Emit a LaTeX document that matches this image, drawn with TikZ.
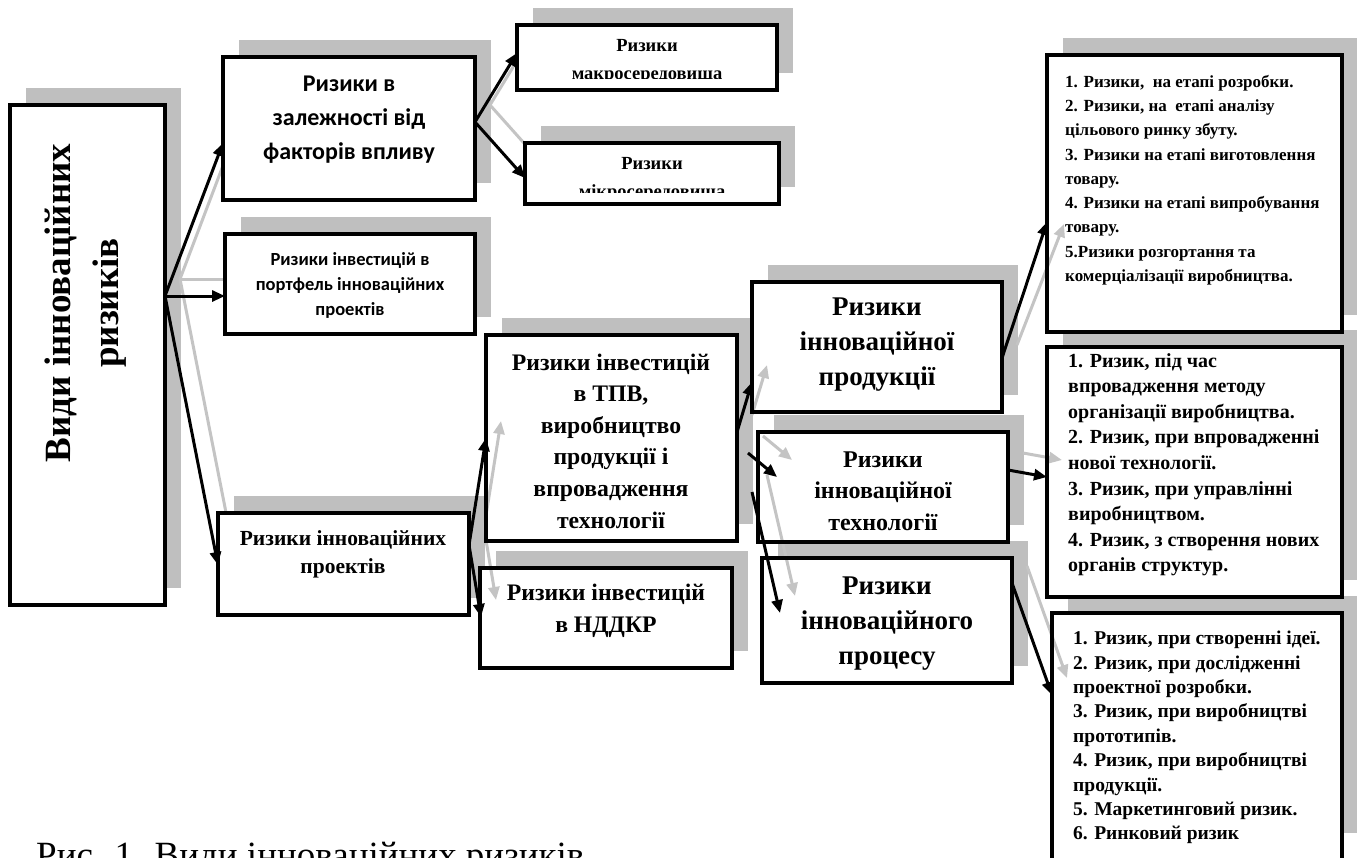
\documentclass[tikz,border=0pt]{standalone}
\usepackage{fontspec}
\setmainfont{Liberation Serif}
\newfontfamily\calfont{Carlito}
\usetikzlibrary{arrows.meta,fit}
\definecolor{shd}{HTML}{BFBFBF}
\definecolor{gar}{HTML}{C4C4C4}
\begin{document}
\begin{tikzpicture}[x=1pt,y=-1pt,
  box/.style={draw=black, line width=3.5pt, fill=white, inner sep=0pt},
  boxline/.style={draw=black, line width=3.5pt},
  blkarrow/.style={draw=black, line width=3pt, -{Triangle[length=13pt,width=11pt]}},
  grayarrow/.style={draw=gar, line width=3pt, -{Triangle[length=13pt,width=11pt]}},
  txt/.style={align=center, inner sep=0pt},
  lst/.style={align=left, inner sep=0pt, anchor=north west}]
\useasboundingbox (0,0) rectangle (1357,857);
\clip (0,0) rectangle (1357,857);
% box corners
\coordinate (main-nw) at (10,105);   \coordinate (main-se) at (165,605);
\coordinate (zal-nw) at (223,57);    \coordinate (zal-se) at (475,200);
\coordinate (macro-nw) at (517,25);  \coordinate (macro-se) at (777,90);
\coordinate (micro-nw) at (525,143); \coordinate (micro-se) at (779,204);
\coordinate (port-nw) at (225,234);  \coordinate (port-se) at (475,334);
\coordinate (proj-nw) at (218,513);  \coordinate (proj-se) at (469,615);
\coordinate (tpv-nw) at (486,335);   \coordinate (tpv-se) at (737,541);
\coordinate (nd-nw) at (480,568);    \coordinate (nd-se) at (732,668);
\coordinate (prod-nw) at (752,282);  \coordinate (prod-se) at (1002,412);
\coordinate (tech-nw) at (758,432);  \coordinate (tech-se) at (1008,542);
\coordinate (proc-nw) at (762,558);  \coordinate (proc-se) at (1012,683);
\coordinate (r1-nw) at (1047,55);    \coordinate (r1-se) at (1342,332);
\coordinate (r2-nw) at (1047,347);   \coordinate (r2-se) at (1342,597);
\coordinate (r3-nw) at (1052,613);   \coordinate (r3-se) at (1342,880);
% connector end points
\coordinate (mo) at (165,296);
\coordinate (h-zal) at (223,143);
\coordinate (h-port) at (225,296);
\coordinate (h-proj) at (218,565);
\coordinate (t-zal) at (475,122);
\coordinate (h-macro) at (517,53);
\coordinate (h-micro) at (525,178);
\coordinate (t-proj) at (469,545);
\coordinate (h-tpv) at (486,438);
\coordinate (h-nd) at (481,617);
\coordinate (t-tpv) at (737,432);
\coordinate (h-prod) at (752,382);
\coordinate (t-tech0) at (748,453);
\coordinate (h-tech) at (777,477);
\coordinate (t-proc0) at (752,492);
\coordinate (h-proc) at (780,613);
\coordinate (t-prod) at (1002,358);
\coordinate (h-r1) at (1047,222);
\coordinate (t-tech) at (1008,470);
\coordinate (h-r2) at (1047,477);
\coordinate (t-proc) at (1012,583);
\coordinate (h-r3) at (1052,695);
% shadows of boxes
\foreach \n in {main,zal,macro,micro,port,proj,tpv,nd,prod,tech,proc,r1,r2}
  \fill[shd] ([shift={(16,-17)}]\n-nw) rectangle ([shift={(16,-17)}]\n-se);
\fill[shd] (1068,596) rectangle (1359,833);
% shadows of left connectors (behind boxes)
\begin{scope}[transform canvas={shift={(15,-17)}}]
  \draw[grayarrow] (mo) -- (h-zal);
  \draw[grayarrow] (mo) -- (h-port);
  \draw[grayarrow] (mo) -- (h-proj);
  \draw[grayarrow] (t-zal) -- (h-macro);
  \draw[grayarrow] (t-zal) -- (h-micro);
\end{scope}
% boxes
\foreach \n in {main,zal,macro,micro,port,proj,tpv,nd,prod,tech,proc,r1,r2,r3}
  \node[box, fit=(\n-nw)(\n-se)] (\n) {};
% shadows of right connectors (over box fills)
\begin{scope}[transform canvas={shift={(15,-17)}}]
  \draw[grayarrow] (t-proj) -- (h-tpv);
  \draw[grayarrow] (t-proj) -- (h-nd);
  \draw[grayarrow] (t-tpv) -- (h-prod);
  \draw[grayarrow] (t-tech0) -- (h-tech);
  \draw[grayarrow] (t-proc0) -- (h-proc);
  \draw[grayarrow] (t-tech) -- (h-r2);
  \draw[grayarrow] (t-proc) -- (h-r3);
\end{scope}
\coordinate (g-prod) at (1017,345);
\coordinate (g-r1) at (1064,224);
\draw[grayarrow] (g-prod) -- (g-r1);
\foreach \n in {tpv,nd,prod,tech,proc,r1,r2,r3}
  \draw[boxline] (\n-nw) rectangle (\n-se);
% connectors
\draw[blkarrow] (mo) -- (h-zal);
\draw[blkarrow] (mo) -- (h-port);
\draw[blkarrow] (mo) -- (h-proj);
\draw[blkarrow] (t-zal) -- (h-macro);
\draw[blkarrow] (t-zal) -- (h-micro);
\draw[blkarrow] (t-proj) -- (h-tpv);
\draw[blkarrow] (t-proj) -- (h-nd);
\draw[blkarrow] (t-tpv) -- (h-prod);
\draw[blkarrow] (t-tech0) -- (h-tech);
\draw[blkarrow] (t-proc0) -- (h-proc);
\draw[blkarrow] (t-prod) -- (h-r1);
\draw[blkarrow] (t-tech) -- (h-r2);
\draw[blkarrow] (t-proc) -- (h-r3);
% texts
\node[txt, rotate=90, font=\bfseries\fontsize{37}{48}\selectfont] (maintext) at (86,303) {Види інноваційних\\ризиків};
\node[txt, font=\calfont\bfseries\fontsize{24}{34}\selectfont] (zaltext) at (349,120) {Ризики в\\залежності від\\факторів впливу};
\begin{scope}
  \clip (517,25) rectangle (777,78);
  \node[txt, font=\bfseries\fontsize{18.5}{28}\selectfont] (macrotext) at (647,61) {Ризики\\макросередовища};
\end{scope}
\begin{scope}
  \clip (525,143) rectangle (779,192);
  \node[txt, font=\bfseries\fontsize{18.5}{28}\selectfont] (microtext) at (652,179) {Ризики\\мікросередовища};
\end{scope}
\node[txt, font=\calfont\bfseries\fontsize{18.5}{25}\selectfont] (porttext) at (350,285) {Ризики інвестицій в\\портфель інноваційних\\проектів};
\node[txt, font=\bfseries\fontsize{21.5}{28}\selectfont] (projtext) at (343,554) {Ризики інноваційних\\проектів};
\node[txt, font=\bfseries\fontsize{23.7}{31.6}\selectfont] (tpvtext) at (611,441) {Ризики інвестицій\\в ТПВ,\\виробництво\\продукції і\\впровадження\\технології};
\node[txt, font=\bfseries\fontsize{23.7}{32}\selectfont] (ndtext) at (606,611) {Ризики інвестицій\\в НДДКР};
\node[txt, font=\bfseries\fontsize{27}{35}\selectfont] (prodtext) at (877,345) {Ризики\\інноваційної\\продукції};
\node[txt, font=\bfseries\fontsize{24}{31.5}\selectfont] (techtext) at (883,491) {Ризики\\інноваційної\\технології};
\node[txt, font=\bfseries\fontsize{27}{35}\selectfont] (proctext) at (887,624) {Ризики\\інноваційного\\процесу};
\node[lst, font=\bfseries\fontsize{17}{24.25}\selectfont] (r1text) at (1065,75) {1. Ризики,~ на етапі розробки.\\2. Ризики, на~ етапі аналізу\\цільового ринку збуту.\\3. Ризики на етапі виготовлення\\товару.\\4. Ризики на етапі випробування\\товару.\\5.Ризики розгортання та\\комерціалізації виробництва.};
\node[lst, font=\bfseries\fontsize{20}{25.6}\selectfont] (r2text) at (1068,353) {1. Ризик, під час\\впровадження методу\\організації виробництва.\\2. Ризик, при впровадженні\\нової технології.\\3. Ризик, при управлінні\\виробництвом.\\4. Ризик, з створення нових\\органів структур.};
\node[lst, font=\bfseries\fontsize{19.5}{24.4}\selectfont] (r3text) at (1073,631) {1. Ризик, при створенні ідеї.\\2. Ризик, при дослідженні\\проектної розробки.\\3. Ризик, при виробництві\\прототипів.\\4. Ризик, при виробництві\\продукції.\\5. Маркетинговий ризик.\\6. Ринковий ризик};
\node[anchor=base west, inner sep=0pt, font=\fontsize{37}{44}\selectfont] (caption) at (36,867) {Рис. 1. Види інноваційних ризиків};
\end{tikzpicture}
\end{document}
